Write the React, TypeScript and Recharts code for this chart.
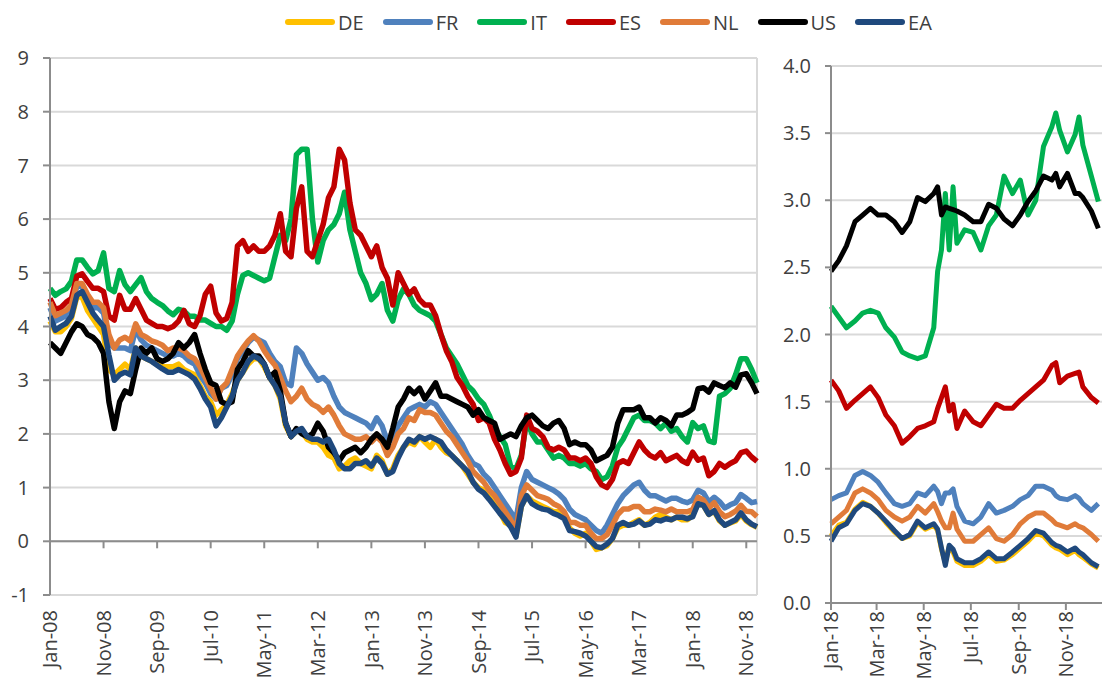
import React from 'react';
import { CartesianGrid, Line, LineChart, ReferenceLine, XAxis, YAxis } from 'recharts';

// ---- long history, one value per month start (m = 0 is Jan-08, 132 is end Dec-18)
const LEFT_TICK_LABELS = ['Jan-08', 'Nov-08', 'Sep-09', 'Jul-10', 'May-11', 'Mar-12', 'Jan-13', 'Nov-13', 'Sep-14', 'Jul-15', 'May-16', 'Mar-17', 'Jan-18', 'Nov-18'];
const LEFT_TICKS = [0, 10, 20, 30, 40, 50, 60, 70, 80, 90, 100, 110, 120, 130];
const LEFT_Y_TICKS = [-1, 0, 1, 2, 3, 4, 5, 6, 7, 8, 9];

const DE = [
  4.1, 3.9, 3.9, 4.0, 4.15, 4.55, 4.55, 4.3, 4.15, 4.0, 3.85, 3.2,
  3.1, 3.2, 3.3, 3.2, 3.6, 3.45, 3.4, 3.35, 3.3, 3.25, 3.25, 3.25,
  3.3, 3.2, 3.15, 3.1, 2.9, 2.7, 2.6, 2.35, 2.45, 2.55, 2.75, 3.0,
  3.15, 3.3, 3.4, 3.4, 3.25, 3.05, 2.9, 2.65, 2.15, 1.95, 2.05, 2.05,
  1.9, 1.85, 1.85, 1.75, 1.6, 1.55, 1.35, 1.4, 1.5, 1.55, 1.45, 1.4,
  1.35, 1.6, 1.5, 1.25, 1.35, 1.6, 1.75, 1.85, 1.8, 1.95, 1.85, 1.75,
  1.9, 1.75, 1.65, 1.6, 1.5, 1.4, 1.25, 1.1, 1.0, 0.95, 0.85, 0.75,
  0.55, 0.35, 0.3, 0.1, 0.65, 0.85, 0.75, 0.7, 0.65, 0.6, 0.55, 0.55,
  0.45, 0.25, 0.15, 0.1, 0.15, 0.0, -0.15, -0.12, -0.08, 0.05, 0.25, 0.3,
  0.3, 0.35, 0.4, 0.3, 0.35, 0.45, 0.5, 0.45, 0.4, 0.45, 0.4, 0.4,
  0.5, 0.7, 0.67, 0.5, 0.56, 0.38, 0.3, 0.34, 0.38, 0.5, 0.38, 0.31, 0.26,
];
const FR = [
  4.35, 4.1, 4.15, 4.2, 4.35, 4.75, 4.75, 4.55, 4.35, 4.35, 4.25, 3.7,
  3.6, 3.6, 3.6, 3.55, 3.95, 3.75, 3.65, 3.6, 3.55, 3.5, 3.45, 3.45,
  3.5, 3.45, 3.35, 3.3, 3.1, 2.95, 2.75, 2.65, 2.85, 2.9, 3.1, 3.4,
  3.55, 3.7, 3.8, 3.75, 3.7, 3.5, 3.35, 3.25, 2.95, 2.9, 3.6, 3.5,
  3.3, 3.15, 3.0, 3.05, 2.95, 2.7, 2.5, 2.4, 2.35, 2.3, 2.25, 2.2,
  2.1, 2.3, 2.15, 1.85, 1.9, 2.15, 2.3, 2.45, 2.5, 2.55, 2.5, 2.6,
  2.55, 2.4, 2.25, 2.1, 1.95, 1.8, 1.6, 1.45, 1.4, 1.25, 1.15, 1.0,
  0.85, 0.7, 0.55, 0.4, 1.0, 1.3, 1.15, 1.1, 1.05, 1.0, 0.95, 0.88,
  0.78, 0.6, 0.5, 0.45, 0.4, 0.3, 0.2, 0.15, 0.3, 0.5, 0.7, 0.85,
  0.95, 1.05, 1.1, 0.95, 0.85, 0.85, 0.8, 0.75, 0.8, 0.8, 0.75, 0.72,
  0.77, 0.95, 0.9, 0.73, 0.82, 0.74, 0.62, 0.68, 0.72, 0.87, 0.8, 0.72, 0.74,
];
const IT = [
  4.71, 4.58, 4.65, 4.7, 4.84, 5.24, 5.24, 5.1, 4.98, 5.04, 5.37, 4.71,
  4.65, 5.04, 4.78, 4.65, 4.78, 4.91, 4.65, 4.52, 4.45, 4.39, 4.29, 4.22,
  4.32, 4.29, 4.19, 4.19, 4.12, 4.12, 4.06, 4.0, 4.0, 3.93, 4.1, 4.6,
  4.95, 5.0, 4.95, 4.9, 4.85, 4.9, 5.3, 5.7, 5.6, 6.0, 7.2, 7.3,
  7.3, 6.0, 5.2, 5.6, 5.8, 5.9, 6.1, 6.5, 5.8, 5.4, 5.0, 4.8,
  4.5, 4.6, 4.8, 4.3, 4.1, 4.5, 4.7, 4.6, 4.4, 4.3, 4.25, 4.2,
  4.1, 3.85, 3.6, 3.45, 3.3, 3.1, 2.9, 2.8, 2.65, 2.55, 2.35, 2.1,
  1.95, 1.8, 1.4, 1.35, 1.6, 2.25, 2.0, 1.85, 1.85, 1.7, 1.55, 1.6,
  1.55, 1.45, 1.45, 1.4, 1.45, 1.35, 1.3, 1.15, 1.2, 1.4, 1.75, 1.9,
  2.1, 2.3, 2.35, 2.25, 2.25, 2.2, 2.1, 2.2, 2.05, 2.1, 1.95, 1.85,
  2.21, 2.1, 2.15, 1.87, 1.84, 2.7, 2.75, 2.85, 3.1, 3.4, 3.4, 3.2, 2.95,
];
const ES = [
  4.52, 4.32, 4.35, 4.45, 4.52, 4.94, 4.98, 4.84, 4.71, 4.71, 4.65, 4.19,
  4.12, 4.58, 4.32, 4.32, 4.52, 4.32, 4.12, 4.06, 4.0, 4.0, 3.96, 4.0,
  4.1, 4.3, 4.05, 4.0, 4.2, 4.6, 4.75, 4.25, 4.1, 4.15, 4.45, 5.5,
  5.6, 5.4, 5.5, 5.4, 5.4, 5.5, 5.7, 6.1, 5.4, 5.3, 6.2, 6.6,
  5.4, 5.3, 5.6, 5.9, 6.4, 6.6, 7.3, 7.1, 6.3, 5.8, 5.7, 5.5,
  5.3, 5.5, 5.1, 4.9, 4.4, 5.0, 4.8, 4.6, 4.7, 4.5, 4.4, 4.4,
  4.2, 3.85, 3.55, 3.35, 3.05, 2.9, 2.7, 2.55, 2.25, 2.3, 2.2, 1.9,
  1.7, 1.45, 1.25, 1.3, 1.55, 2.35, 2.1, 2.05, 1.95, 1.75, 1.7, 1.75,
  1.7, 1.55, 1.55, 1.5, 1.55, 1.45, 1.2, 1.05, 1.0, 1.15, 1.45, 1.5,
  1.45, 1.65, 1.85, 1.7, 1.6, 1.55, 1.65, 1.5, 1.55, 1.6, 1.5, 1.45,
  1.66, 1.51, 1.55, 1.22, 1.3, 1.45, 1.38, 1.45, 1.5, 1.65, 1.68, 1.57, 1.49,
];
const NL = [
  4.45, 4.2, 4.25, 4.3, 4.4, 4.8, 4.8, 4.6, 4.45, 4.45, 4.35, 3.85,
  3.6, 3.75, 3.8, 3.73, 4.05, 3.85, 3.8, 3.73, 3.7, 3.65, 3.55, 3.6,
  3.6, 3.55, 3.45, 3.4, 3.25, 3.05, 2.85, 2.65, 2.85, 2.95, 3.2, 3.45,
  3.6, 3.73, 3.83, 3.73, 3.55, 3.4, 3.28, 3.05, 2.8, 2.6, 2.7, 2.85,
  2.65, 2.55, 2.5, 2.4, 2.5, 2.35, 2.15, 2.0, 1.95, 1.9, 1.9, 1.95,
  1.85, 1.95, 1.85, 1.6, 1.75, 2.0, 2.1, 2.3, 2.25, 2.45, 2.4, 2.4,
  2.35, 2.2, 2.05, 1.95, 1.8, 1.65, 1.5, 1.3, 1.2, 1.1, 0.95, 0.85,
  0.7, 0.55, 0.4, 0.2, 0.85, 1.05, 0.95, 0.85, 0.82, 0.78, 0.7, 0.65,
  0.55, 0.35, 0.35, 0.3, 0.3, 0.15, 0.05, 0.05, 0.12, 0.3, 0.5, 0.6,
  0.6, 0.65, 0.65, 0.55, 0.55, 0.6, 0.58, 0.55, 0.6, 0.55, 0.55, 0.55,
  0.59, 0.82, 0.77, 0.62, 0.72, 0.55, 0.46, 0.5, 0.56, 0.67, 0.56, 0.55, 0.46,
];
const US = [
  3.7, 3.6, 3.5, 3.7, 3.9, 4.05, 4.0, 3.85, 3.8, 3.7, 3.5, 2.6,
  2.1, 2.6, 2.8, 2.75, 3.2, 3.6, 3.5, 3.6, 3.4, 3.35, 3.4, 3.5,
  3.7, 3.6, 3.7, 3.85, 3.5, 3.2, 2.95, 2.9, 2.6, 2.55, 2.6, 3.2,
  3.35, 3.55, 3.45, 3.45, 3.3, 3.05, 3.15, 2.8, 2.2, 1.95, 2.1, 2.0,
  1.95, 2.0, 2.2, 2.05, 1.75, 1.65, 1.5, 1.65, 1.7, 1.75, 1.65, 1.75,
  1.9, 2.0, 1.9, 1.75, 2.1, 2.5, 2.65, 2.85, 2.75, 2.85, 2.65, 2.8,
  2.95, 2.7, 2.7, 2.65, 2.6, 2.55, 2.5, 2.35, 2.45, 2.3, 2.25, 2.2,
  1.9, 1.95, 2.0, 1.95, 2.15, 2.3, 2.35, 2.25, 2.15, 2.1, 2.2, 2.25,
  2.1, 1.8, 1.85, 1.8, 1.8, 1.7, 1.5, 1.55, 1.6, 1.75, 2.2, 2.45,
  2.45, 2.45, 2.5, 2.3, 2.3, 2.2, 2.3, 2.25, 2.15, 2.35, 2.35, 2.4,
  2.47, 2.84, 2.86, 2.78, 2.95, 2.9, 2.86, 2.95, 2.87, 3.1, 3.12, 2.95, 2.75,
];
const EA = [
  4.19, 3.93, 4.0, 4.06, 4.19, 4.58, 4.65, 4.45, 4.25, 4.12, 4.0, 3.47,
  3.0, 3.1, 3.15, 3.1, 3.6, 3.45, 3.4, 3.35, 3.28, 3.21, 3.15, 3.15,
  3.2, 3.15, 3.1, 3.02, 2.85, 2.65, 2.5, 2.15, 2.3, 2.5, 2.7, 3.0,
  3.15, 3.35, 3.45, 3.4, 3.3, 3.05, 2.9, 2.7, 2.2, 1.95, 2.05, 2.1,
  1.95, 1.9, 1.9, 1.85, 1.9, 1.7, 1.45, 1.35, 1.35, 1.45, 1.45, 1.5,
  1.4, 1.55, 1.45, 1.25, 1.3, 1.55, 1.75, 1.9, 1.85, 1.95, 1.9, 1.95,
  1.9, 1.85, 1.7, 1.6, 1.5, 1.4, 1.3, 1.1, 0.97, 0.9, 0.78, 0.65,
  0.52, 0.4, 0.27, 0.08, 0.65, 0.85, 0.7, 0.64, 0.6, 0.58, 0.52, 0.48,
  0.42, 0.2, 0.18, 0.15, 0.1, 0.0, -0.1, -0.12, -0.05, 0.05, 0.3, 0.35,
  0.3, 0.32, 0.38, 0.3, 0.32, 0.4, 0.38, 0.42, 0.4, 0.45, 0.45, 0.42,
  0.46, 0.7, 0.67, 0.5, 0.57, 0.4, 0.3, 0.35, 0.4, 0.53, 0.4, 0.32, 0.27,
];

// ---- 2018 zoom, x = day of the year
const RIGHT_TICK_LABELS = ['Jan-18', 'Mar-18', 'May-18', 'Jul-18', 'Sep-18', 'Nov-18'];
const RIGHT_TICKS = [0, 59, 120, 181, 243, 304];
const RIGHT_Y_TICKS = [0, 0.5, 1, 1.5, 2, 2.5, 3, 3.5, 4];
const DAYS_18 = [0, 10, 20, 31, 41, 51, 61, 71, 82, 92, 102, 112, 122, 133, 138, 143, 148, 153, 158, 163, 173, 184, 194, 204, 214, 224, 235, 245, 255, 265, 275, 286, 291, 296, 306, 316, 321, 326, 337, 346];

const DE_18 = [0.5, 0.58, 0.6, 0.7, 0.75, 0.72, 0.67, 0.6, 0.53, 0.48, 0.5, 0.6, 0.55, 0.58, 0.54, 0.4, 0.3, 0.42, 0.38, 0.31, 0.28, 0.28, 0.31, 0.36, 0.31, 0.32, 0.36, 0.41, 0.46, 0.52, 0.5, 0.43, 0.41, 0.4, 0.36, 0.39, 0.36, 0.34, 0.29, 0.26];
const FR_18 = [0.77, 0.8, 0.82, 0.95, 0.98, 0.95, 0.9, 0.82, 0.74, 0.72, 0.74, 0.82, 0.8, 0.87, 0.83, 0.74, 0.82, 0.82, 0.85, 0.72, 0.61, 0.59, 0.64, 0.74, 0.67, 0.69, 0.72, 0.77, 0.8, 0.87, 0.87, 0.84, 0.8, 0.78, 0.77, 0.8, 0.78, 0.74, 0.69, 0.74];
const IT_18 = [2.21, 2.13, 2.05, 2.1, 2.16, 2.18, 2.16, 2.05, 1.98, 1.87, 1.84, 1.82, 1.84, 2.05, 2.47, 2.63, 3.05, 2.63, 3.1, 2.68, 2.78, 2.76, 2.63, 2.81, 2.89, 3.18, 3.05, 3.15, 2.89, 3.0, 3.4, 3.55, 3.65, 3.52, 3.36, 3.49, 3.62, 3.41, 3.18, 2.99];
const ES_18 = [1.66, 1.58, 1.45, 1.51, 1.56, 1.61, 1.53, 1.4, 1.32, 1.19, 1.24, 1.3, 1.32, 1.35, 1.45, 1.53, 1.61, 1.43, 1.48, 1.3, 1.43, 1.35, 1.32, 1.4, 1.48, 1.45, 1.45, 1.51, 1.56, 1.61, 1.66, 1.77, 1.79, 1.64, 1.69, 1.71, 1.72, 1.61, 1.53, 1.49];
const NL_18 = [0.59, 0.64, 0.69, 0.82, 0.85, 0.82, 0.77, 0.69, 0.64, 0.61, 0.64, 0.72, 0.67, 0.74, 0.68, 0.61, 0.56, 0.56, 0.67, 0.55, 0.46, 0.46, 0.51, 0.56, 0.48, 0.46, 0.51, 0.59, 0.64, 0.67, 0.67, 0.62, 0.59, 0.58, 0.56, 0.59, 0.57, 0.56, 0.51, 0.46];
const US_18 = [2.47, 2.55, 2.66, 2.84, 2.89, 2.94, 2.89, 2.89, 2.84, 2.76, 2.84, 3.02, 2.99, 3.05, 3.1, 2.89, 2.95, 2.94, 2.93, 2.92, 2.89, 2.84, 2.84, 2.97, 2.94, 2.86, 2.81, 2.89, 2.99, 3.07, 3.18, 3.15, 3.2, 3.1, 3.2, 3.05, 3.05, 3.02, 2.92, 2.79];
const EA_18 = [0.46, 0.56, 0.59, 0.69, 0.74, 0.72, 0.67, 0.61, 0.54, 0.48, 0.51, 0.61, 0.56, 0.59, 0.55, 0.41, 0.28, 0.43, 0.4, 0.33, 0.3, 0.3, 0.33, 0.38, 0.33, 0.33, 0.38, 0.43, 0.48, 0.54, 0.52, 0.45, 0.43, 0.42, 0.38, 0.41, 0.38, 0.36, 0.3, 0.27];

const SERIES = ['DE', 'FR', 'IT', 'ES', 'NL', 'US', 'EA'];
const COLORS: Record<string, string> = {
  DE: '#FFC000',
  FR: '#4F81BD',
  IT: '#00B050',
  ES: '#C00000',
  NL: '#E07B39',
  US: '#000000',
  EA: '#1F497D',
};

const leftData = DE.map((_, m) => ({
  m, DE: DE[m], FR: FR[m], IT: IT[m], ES: ES[m], NL: NL[m], US: US[m], EA: EA[m],
}));
const rightData = DAYS_18.map((d, i) => ({
  d, DE: DE_18[i], FR: FR_18[i], IT: IT_18[i], ES: ES_18[i], NL: NL_18[i], US: US_18[i], EA: EA_18[i],
}));

const FONT = '"Open Sans", sans-serif';
const TEXT = '#404040';
const AXIS = '#8c8c8c';
const GRID = '#d9d9d9';
const FS = 20;

// left chart geometry
const L_W = 760;
const L_H = 686;
const L_TOP = 58;
const L_XAXIS_H = 91;
const L_PLOT_H = L_H - L_TOP - L_XAXIS_H;

const LeftTick = (props: any) => {
  const { x, y, payload } = props;
  const zeroY = y - L_PLOT_H / 10;
  const ty = y + 15;
  const label = LEFT_TICK_LABELS[LEFT_TICKS.indexOf(payload.value)];
  return (
    <g>
      <line x1={x} x2={x} y1={zeroY} y2={zeroY + 7} stroke={AXIS} strokeWidth={2} />
      <text x={x} y={ty} transform={`rotate(-90, ${x}, ${ty})`} textAnchor="end" dy="0.36em"
        fill={TEXT} fontSize={FS} fontFamily={FONT}>{label}</text>
    </g>
  );
};

const RightTick = (props: any) => {
  const { x, y, payload } = props;
  const ty = y + 8;
  const label = RIGHT_TICK_LABELS[RIGHT_TICKS.indexOf(payload.value)];
  return (
    <g>
      <line x1={x} x2={x} y1={y} y2={y + 7} stroke={AXIS} strokeWidth={2} />
      <text x={x} y={ty} transform={`rotate(-90, ${x}, ${ty})`} textAnchor="end" dy="0.36em"
        fill={TEXT} fontSize={FS} fontFamily={FONT}>{label}</text>
    </g>
  );
};

const renderLines = (width: number) =>
  SERIES.map((s) => (
    <Line
      key={s}
      type="linear"
      dataKey={s}
      stroke={COLORS[s]}
      strokeWidth={width}
      strokeLinejoin="round"
      dot={false}
      activeDot={false}
      isAnimationActive={false}
    />
  ));

const Legend = () => (
  <div
    style={{
      position: 'absolute', left: 285, top: 8, height: 28, display: 'flex',
      alignItems: 'center', gap: 19, fontFamily: FONT, fontSize: FS, color: TEXT,
    }}
  >
    {SERIES.map((s) => (
      <div key={s} style={{ display: 'flex', alignItems: 'center' }}>
        <span style={{ display: 'inline-block', width: 50, height: 6, borderRadius: 3, background: COLORS[s], marginRight: 3 }} />
        <span>{s}</span>
      </div>
    ))}
  </div>
);

const App = () => {
  return (
    <div style={{ position: 'fixed', left: 0, top: 0, width: 1102, height: 686, overflow: 'hidden', background: '#fff' }}>
      <div style={{ position: 'absolute', left: 0, top: 0 }}>
        <LineChart width={L_W} height={L_H} data={leftData} margin={{ top: L_TOP, right: 3, bottom: 0, left: 0 }}>
          <CartesianGrid vertical={false} stroke={GRID} strokeWidth={2} />
          <XAxis
            type="number"
            dataKey="m"
            domain={[0, 132]}
            ticks={LEFT_TICKS}
            interval={0}
            height={L_XAXIS_H}
            axisLine={false}
            tickLine={false}
            tickSize={0}
            tickMargin={0}
            tick={LeftTick}
          />
          <YAxis
            type="number"
            domain={[-1, 9]}
            ticks={LEFT_Y_TICKS}
            interval={0}
            width={50}
            axisLine={{ stroke: AXIS, strokeWidth: 2 }}
            tickLine={{ stroke: AXIS, strokeWidth: 2 }}
            tickSize={7}
            tickMargin={14}
            tick={{ fill: TEXT, fontSize: FS, fontFamily: FONT }}
          />
          <ReferenceLine x={132} stroke={GRID} strokeWidth={2} />
          <ReferenceLine y={0} stroke={AXIS} strokeWidth={2} />
          {renderLines(5.5)}
        </LineChart>
      </div>
      <div style={{ position: 'absolute', left: 760, top: 0 }}>
        <LineChart width={353} height={686} data={rightData} margin={{ top: 66, right: 0, bottom: 0, left: 0 }}>
          <CartesianGrid vertical={false} stroke={GRID} strokeWidth={2} />
          <XAxis
            type="number"
            dataKey="d"
            domain={[0, 365]}
            ticks={RIGHT_TICKS}
            interval={0}
            height={83}
            axisLine={{ stroke: AXIS, strokeWidth: 2 }}
            tickLine={false}
            tickSize={0}
            tickMargin={0}
            tick={RightTick}
          />
          <YAxis
            type="number"
            domain={[0, 4]}
            ticks={RIGHT_Y_TICKS}
            interval={0}
            width={71}
            axisLine={{ stroke: AXIS, strokeWidth: 2 }}
            tickLine={{ stroke: AXIS, strokeWidth: 2 }}
            tickSize={6}
            tickMargin={14}
            tickFormatter={(v: number) => v.toFixed(1)}
            tick={{ fill: TEXT, fontSize: FS, fontFamily: FONT }}
          />
          {renderLines(5)}
        </LineChart>
      </div>
      <Legend />
    </div>
  );
};

export default App;
